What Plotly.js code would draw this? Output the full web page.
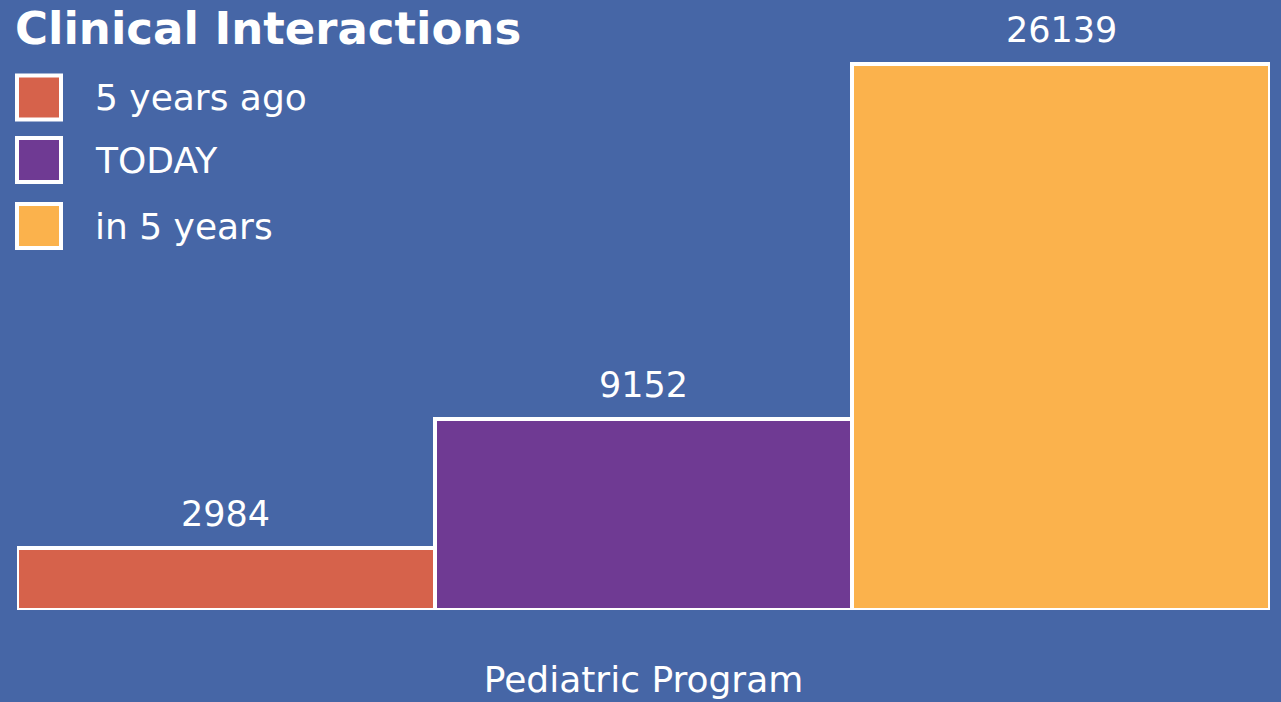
<!DOCTYPE html>
<html>
<head>
<meta charset="utf-8">
<script src="https://cdn.plot.ly/plotly-3.0.1.min.js"></script>
<style>
  html, body { margin: 0; padding: 0; background: #4666a6; }
  #chart { width: 1281px; height: 702px; }
</style>
</head>
<body>
<div id="chart"></div>
<script>
// ---- data ----
const categories = ["Pediatric Program"];
const seriesNames = ["5 years ago", "TODAY", "in 5 years"];
const seriesValues = [2984, 9152, 26139];
const seriesColors = ["#d6624b", "#6f3a93", "#fbb24c"];
const chartTitle = "Clinical Interactions";

// ---- style ----
const BG = "#4666a6";
const FONT = "DejaVu Sans";
const n = seriesNames.length;

const traces = seriesNames.map((name, i) => ({
  type: "bar",
  name: name,
  x: categories,
  y: [seriesValues[i]],
  marker: { color: seriesColors[i], line: { color: "#ffffff", width: 4 } },
  hoverinfo: "name+y"
}));

const annotations = [];
const shapes = [];

// value labels above each bar
seriesValues.forEach((v, i) => {
  annotations.push({
    x: (i + 0.5) / n - 0.5,
    xref: "x",
    y: v,
    yref: "y",
    yanchor: "bottom",
    xanchor: "center",
    yshift: 12,
    showarrow: false,
    text: String(v),
    font: { family: FONT, size: 35, color: "#ffffff" }
  });
});

// custom legend (large swatches)
const legendCenters = [97.5, 160, 226];
seriesNames.forEach((name, i) => {
  const c = legendCenters[i];
  shapes.push({
    type: "rect",
    xref: "paper", yref: "paper",
    xsizemode: "pixel", ysizemode: "pixel",
    xanchor: 0, yanchor: 1,
    x0: 0, x1: 44,
    y0: -(c - 22), y1: -(c + 22),
    fillcolor: seriesColors[i],
    line: { color: "#ffffff", width: 4 }
  });
  annotations.push({
    xref: "paper", yref: "paper",
    x: 0, y: 1,
    xshift: 76, yshift: -c,
    xanchor: "left", yanchor: "middle",
    showarrow: false,
    text: name,
    font: { family: FONT, size: 36, color: "#ffffff" }
  });
});

const layout = {
  width: 1281,
  height: 702,
  margin: { l: 17, r: 11, t: 0, b: 92, pad: 0 },
  paper_bgcolor: BG,
  plot_bgcolor: BG,
  barmode: "group",
  bargap: 0,
  bargroupgap: 0,
  showlegend: false,
  title: {
    text: chartTitle,
    font: { family: FONT, size: 45, weight: "bold", color: "#ffffff" },
    x: 15 / 1281,
    xanchor: "left",
    xref: "container",
    y: 0.982,
    yanchor: "top",
    yref: "container",
    pad: { t: 0, l: 0, r: 0, b: 0 }
  },
  xaxis: {
    type: "category",
    showgrid: false,
    zeroline: false,
    showline: false,
    ticks: "",
    ticklabelstandoff: 45,
    tickfont: { family: FONT, size: 36, color: "#ffffff" }
  },
  yaxis: {
    range: [0, 29190],
    visible: false,
    showgrid: false,
    zeroline: false
  },
  annotations: annotations,
  shapes: shapes
};

Plotly.newPlot("chart", traces, layout, { displayModeBar: false, responsive: false });
</script>
</body>
</html>
